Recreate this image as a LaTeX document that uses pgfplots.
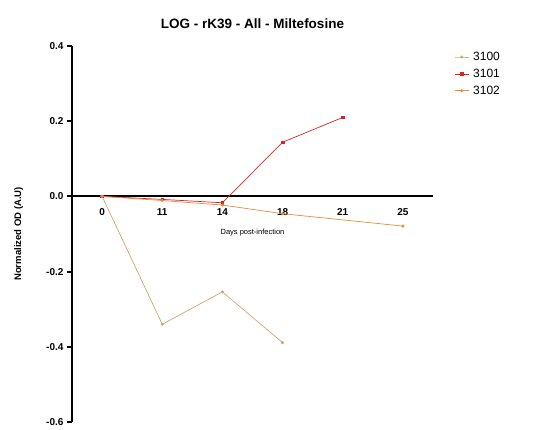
\documentclass[border=0pt]{standalone}
\usepackage{pgfplots}
\pgfplotsset{compat=1.18}
\usepackage{fontspec}
\setmainfont{Liberation Sans}
\definecolor{c3100}{RGB}{205,165,115}
\definecolor{c3101}{RGB}{220,35,35}
\definecolor{c3102}{RGB}{232,140,60}
\begin{document}
\begin{tikzpicture}[x=1pt,y=1pt]
\useasboundingbox (-72,-8) rectangle (477,422);
\begin{axis}[
  at={(0,0)}, anchor=south west,
  scale only axis, width=361pt, height=376pt,
  xmin=-0.5, xmax=5.5, ymin=-0.6, ymax=0.4,
  axis x line=middle, axis y line=left,
  axis line style={line width=2.2pt, -},
  xtick={0,1,2,3,4,5}, xticklabels={0,11,14,18,21,25},
  xtick style={draw=none},
  x tick label style={font=\fontsize{10}{12}\selectfont\bfseries, yshift=-4pt},
  ytick={-0.6,-0.4,-0.2,0,0.2,0.4},
  yticklabels={-0.6,-0.4,-0.2,0.0,0.2,0.4},
  y tick label style={font=\fontsize{10}{12}\selectfont\bfseries},
  ytick style={line width=2pt, black},
  tick align=outside, major tick length=5pt,
  /pgf/number format/assume math mode=true,
  title={\bfseries LOG - rK39 - All - Miltefosine},
  title style={font=\fontsize{13.5}{15}\selectfont, yshift=8pt},
  xlabel={Days post-infection},
  x label style={font=\fontsize{7.5}{9}\selectfont, at={(axis cs:2.5,0)}, anchor=north, yshift=-29pt},
  ylabel={Normalized OD (A.U)},
  y label style={font=\fontsize{9.5}{11}\selectfont\bfseries, at={(axis description cs:-0.148,0.5)}, anchor=center},
  legend style={draw=none, fill=none, at={(rel axis cs:1.05,0.995)}, anchor=north west,
    font=\fontsize{12}{14}\selectfont, row sep=3pt, nodes={inner xsep=4pt}},
  legend image code/.code={\draw[#1, mark repeat=2, mark phase=2] plot coordinates {(0cm,0cm) (0.25cm,0cm) (0.5cm,0cm)};},
  legend cell align=left,
  clip=false,
]
\addplot[c3100, line width=0.7pt, mark=*, mark size=1.2pt] coordinates {(0,0) (1,-0.340) (2,-0.254) (3,-0.389)};
\addlegendentry{3100}
\addplot[c3101, line width=0.7pt, mark=square*, mark size=1.3pt] coordinates {(0,0) (1,-0.008) (2,-0.017) (3,0.144) (4,0.210)};
\addlegendentry{3101}
\addplot[c3102, line width=0.7pt, mark=*, mark size=1.2pt] coordinates {(0,0) (1,-0.011) (2,-0.023) (3,-0.046) (5,-0.079)};
\addlegendentry{3102}
\end{axis}
\end{tikzpicture}
\end{document}
